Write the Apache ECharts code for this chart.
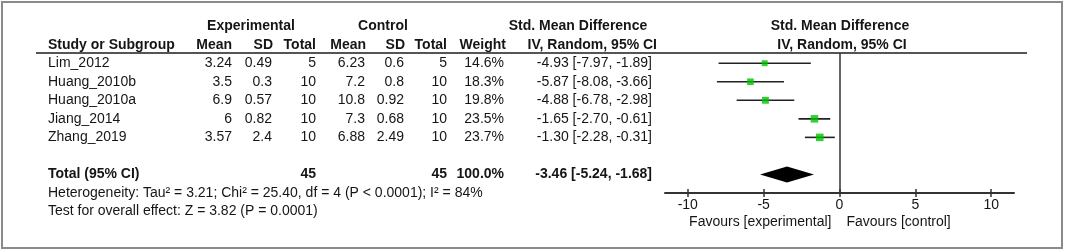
<!DOCTYPE html>
<html>
<head>
<meta charset="utf-8">
<script src="https://cdn.jsdelivr.net/npm/echarts@6/dist/echarts.min.js"></script>
<style>
  html, body { margin: 0; padding: 0; background: #fff; }
  #forest { width: 1065px; height: 252px; }
</style>
</head>
<body>
<div id="forest"></div>
<script>
// study rows
const studies = ['Lim_2012', 'Huang_2010b', 'Huang_2010a', 'Jiang_2014', 'Zhang_2019'];
const expMean = [3.24, 3.5, 6.9, 6, 3.57];
const expSD = [0.49, 0.3, 0.57, 0.82, 2.4];
const expTotal = [5, 10, 10, 10, 10];
const ctrlMean = [6.23, 7.2, 10.8, 7.3, 6.88];
const ctrlSD = [0.6, 0.8, 0.92, 0.68, 2.49];
const ctrlTotal = [5, 10, 10, 10, 10];
const weights = [14.6, 18.3, 19.8, 23.5, 23.7];
const smd = [-4.93, -5.87, -4.88, -1.65, -1.30];
const ciLow = [-7.97, -8.08, -6.78, -2.70, -2.28];
const ciHigh = [-1.89, -3.66, -2.98, -0.61, -0.31];

// pooled estimate [mean, low, high]
const pooled = [-3.46, -5.24, -1.68];
const totalExp = 45;
const totalCtrl = 45;
const totalWeight = 100.0;

const xTicks = [-10, -5, 0, 5, 10];
const heterogeneity = 'Heterogeneity: Tau² = 3.21; Chi² = 25.40, df = 4 (P < 0.0001); I² = 84%';
const overallTest = 'Test for overall effect: Z = 3.82 (P = 0.0001)';

const FONT = '"Liberation Sans", Arial, sans-serif';
const TEXT = '#151515';
const FS = 14;
const totalRow = 6;

const chart = echarts.init(document.getElementById('forest'));

chart.setOption({
  animation: false,
  grid: { left: 665, right: 51, top: 53, bottom: 59 },
  xAxis: [
    {
      type: 'value',
      min: -11.5,
      max: 11.5,
      position: 'bottom',
      splitLine: { show: false },
      axisLine: { onZero: false, lineStyle: { color: '#333', width: 2 } },
      axisTick: { customValues: xTicks, length: 4, lineStyle: { color: '#333', width: 1.5 } },
      axisLabel: { customValues: xTicks, color: TEXT, fontSize: FS, fontFamily: FONT, margin: 5 },
    },
    {
      // second axis only for the tick halves above the line
      type: 'value',
      min: -11.5,
      max: 11.5,
      position: 'bottom',
      splitLine: { show: false },
      axisLine: { show: false, onZero: false },
      axisTick: { inside: true, customValues: xTicks, length: 4, lineStyle: { color: '#333', width: 1.5 } },
      axisLabel: { show: false },
    },
  ],
  yAxis: {
    type: 'value',
    min: -0.55,
    max: 7,
    inverse: true,
    show: false,
  },
  series: [
    {
      // confidence intervals
      type: 'custom',
      renderItem(params, api) {
        const a = api.coord([api.value(0), api.value(2)]);
        const b = api.coord([api.value(1), api.value(2)]);
        return {
          type: 'line',
          shape: { x1: a[0], y1: a[1], x2: b[0], y2: b[1] },
          style: { stroke: '#222', lineWidth: 1.6 },
        };
      },
      data: studies.map((s, i) => [ciLow[i], ciHigh[i], i]),
      z: 2,
    },
    {
      type: 'scatter',
      symbol: 'rect',
      symbolSize: (val, params) => Math.sqrt(weights[params.dataIndex]) * 1.55,
      itemStyle: { color: '#00c400' },
      data: studies.map((s, i) => [smd[i], i]),
      z: 3,
      markLine: {
        silent: true,
        symbol: 'none',
        label: { show: false },
        lineStyle: { color: '#333', width: 1.5, type: 'solid' },
        data: [{ xAxis: 0 }],
      },
    },
    {
      // pooled diamond
      type: 'custom',
      renderItem(params, api) {
        const y = api.value(3);
        const m = api.coord([api.value(0), y]);
        const lo = api.coord([api.value(1), y]);
        const hi = api.coord([api.value(2), y]);
        const h = 8;
        return {
          type: 'polygon',
          shape: { points: [[lo[0], lo[1]], [m[0], m[1] - h], [hi[0], hi[1]], [m[0], m[1] + h]] },
          style: { fill: '#000' },
        };
      },
      data: [[pooled[0], pooled[1], pooled[2], totalRow]],
      z: 3,
    },
  ],
});

// table text, placed on the same row scale as the plot
const rowY = (i) => chart.convertToPixel({ yAxisIndex: 0 }, i);
const zeroX = chart.convertToPixel({ xAxisIndex: 0 }, 0);
const fmt = (v) => v.toFixed(2);

function txt(x, y, s, align, bold) {
  return {
    type: 'text',
    x: x,
    y: y,
    style: {
      text: s,
      fill: TEXT,
      font: (bold ? 'bold ' : '') + FS + 'px ' + FONT,
      textAlign: align || 'left',
      textVerticalAlign: 'middle',
    },
    silent: true,
  };
}

const cols = {
  study: 48, expMean: 232, expSD: 272, expTotal: 316,
  ctrlMean: 365, ctrlSD: 404, ctrlTotal: 447, weight: 504, smd: 652,
};

const g = [];
// frame
g.push({
  type: 'rect',
  shape: { x: 2, y: 2, width: 1060, height: 246 },
  style: { fill: 'none', stroke: '#8a8a8a', lineWidth: 2 },
  silent: true,
});
// header underline
g.push({
  type: 'line',
  shape: { x1: 36, y1: 53, x2: 1027, y2: 53 },
  style: { stroke: '#555', lineWidth: 2 },
  silent: true,
});

const h1 = rowY(-2);
const h2 = rowY(-1);
g.push(txt(251, h1, 'Experimental', 'center', true));
g.push(txt(383, h1, 'Control', 'center', true));
g.push(txt(578, h1, 'Std. Mean Difference', 'center', true));
g.push(txt(840, h1, 'Std. Mean Difference', 'center', true));
g.push(txt(cols.study, h2, 'Study or Subgroup', 'left', true));
g.push(txt(232, h2, 'Mean', 'right', true));
g.push(txt(273, h2, 'SD', 'right', true));
g.push(txt(316, h2, 'Total', 'right', true));
g.push(txt(366, h2, 'Mean', 'right', true));
g.push(txt(405, h2, 'SD', 'right', true));
g.push(txt(447, h2, 'Total', 'right', true));
g.push(txt(506, h2, 'Weight', 'right', true));
g.push(txt(657, h2, 'IV, Random, 95% CI', 'right', true));
g.push(txt(842, h2, 'IV, Random, 95% CI', 'center', true));

studies.forEach((s, i) => {
  const y = rowY(i);
  g.push(txt(cols.study, y, s));
  g.push(txt(cols.expMean, y, String(expMean[i]), 'right'));
  g.push(txt(cols.expSD, y, String(expSD[i]), 'right'));
  g.push(txt(cols.expTotal, y, String(expTotal[i]), 'right'));
  g.push(txt(cols.ctrlMean, y, String(ctrlMean[i]), 'right'));
  g.push(txt(cols.ctrlSD, y, String(ctrlSD[i]), 'right'));
  g.push(txt(cols.ctrlTotal, y, String(ctrlTotal[i]), 'right'));
  g.push(txt(cols.weight, y, weights[i].toFixed(1) + '%', 'right'));
  g.push(txt(cols.smd, y, fmt(smd[i]) + ' [' + fmt(ciLow[i]) + ', ' + fmt(ciHigh[i]) + ']', 'right'));
});

const ty = rowY(totalRow);
g.push(txt(cols.study, ty, 'Total (95% CI)', 'left', true));
g.push(txt(cols.expTotal, ty, String(totalExp), 'right', true));
g.push(txt(cols.ctrlTotal, ty, String(totalCtrl), 'right', true));
g.push(txt(cols.weight, ty, totalWeight.toFixed(1) + '%', 'right', true));
g.push(txt(cols.smd, ty, fmt(pooled[0]) + ' [' + fmt(pooled[1]) + ', ' + fmt(pooled[2]) + ']', 'right', true));

g.push(txt(cols.study, rowY(7), heterogeneity));
g.push(txt(cols.study, rowY(8), overallTest));

// favours labels under the axis
g.push(txt(zeroX - 8, 222, 'Favours [experimental]', 'right'));
g.push(txt(zeroX + 7, 222, 'Favours [control]', 'left'));

chart.setOption({ graphic: g });
</script>
</body>
</html>
